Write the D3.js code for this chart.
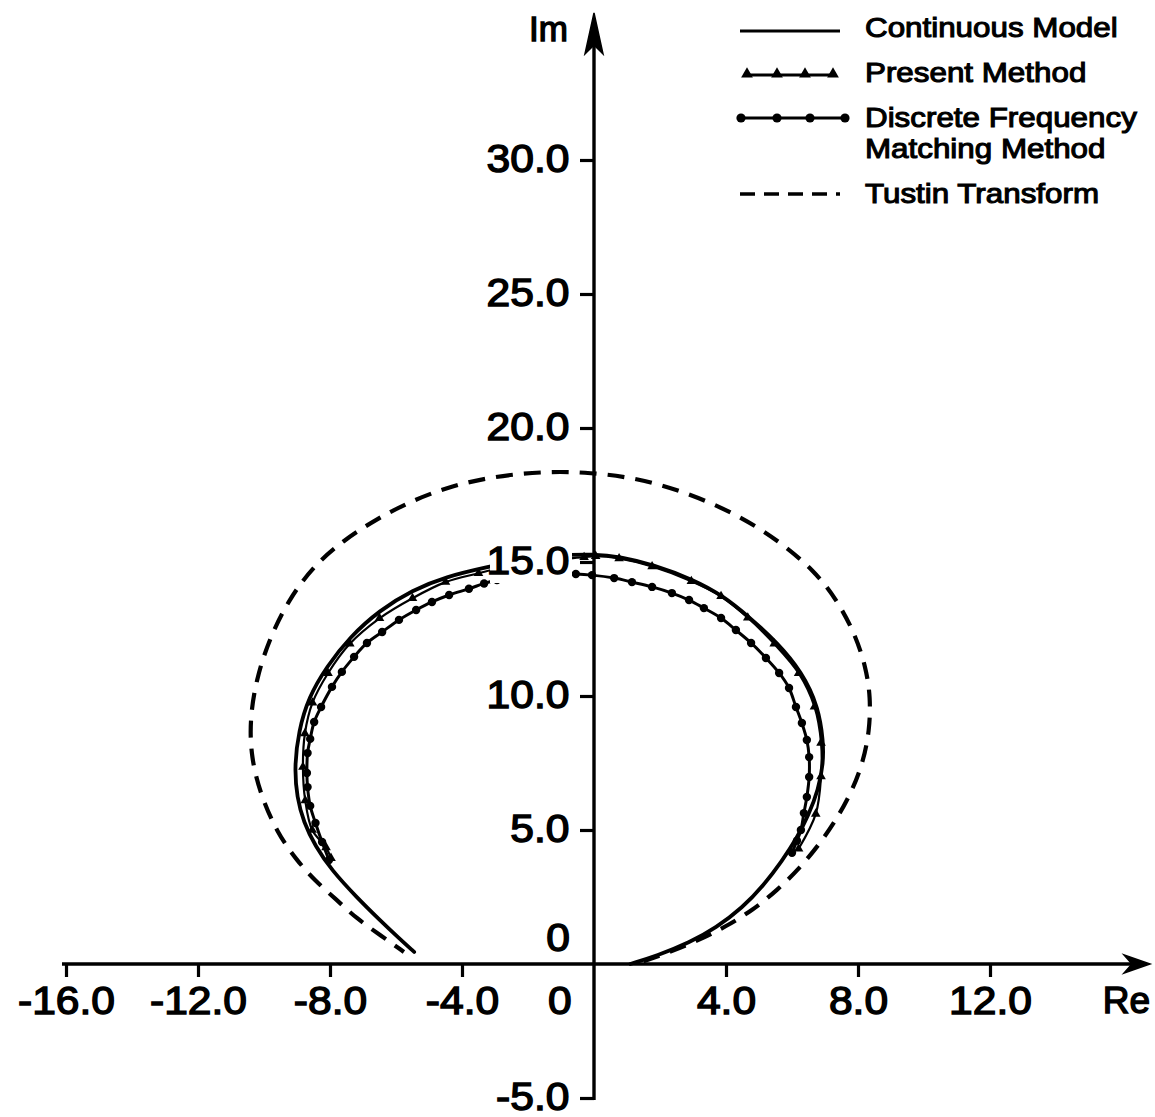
<!DOCTYPE html>
<html>
<head>
<meta charset="utf-8">
<script src="https://cdn.jsdelivr.net/npm/d3@7"></script>
<style>
  html, body { margin: 0; padding: 0; background: #fff; }
  svg { display: block; }
</style>
</head>
<body>
<svg id="chart" width="1155" height="1117"></svg>
<script>
// Nyquist plot (Re, Im) of the continuous model and three discretisations.

// Tick values on each axis
const reTicks = [-16, -12, -8, -4, 0, 4, 8, 12];
const imTicks = [-5, 5, 10, 15, 20, 25, 30];

// Continuous model locus, [Re, Im]
const continuousModel = [
  [1.1, 0.0], [1.9, 0.3], [2.9, 0.8], [3.7, 1.35], [4.5, 2.1], [5.15, 2.95],
  [5.7, 3.85], [6.15, 4.7], [6.5, 5.55], [6.8, 6.5], [6.95, 7.5], [6.95, 8.3],
  [6.8, 9.6], [6.3, 10.9], [5.55, 12.0], [4.7, 12.95], [3.9, 13.75],
  [3.0, 14.35], [1.8, 14.9], [0.8, 15.2], [0.0, 15.3], [-1.2, 15.25],
  [-2.3, 15.05], [-3.2, 14.82], [-4.5, 14.45], [-5.5, 13.95], [-6.5, 13.2],
  [-7.4, 12.2], [-8.1, 11.1], [-8.65, 9.95], [-8.95, 8.7], [-9.08, 7.35],
  [-9.0, 6.2], [-8.8, 5.3], [-8.45, 4.4], [-7.95, 3.5], [-7.2, 2.5],
  [-6.5, 1.65], [-5.9, 0.95], [-5.45, 0.45]
];

// Present method samples, [Re, Im]
const presentMethod = [
  [6.2, 4.3], [6.72, 5.6], [6.88, 7.0], [6.88, 8.25], [6.68, 9.6], [6.2, 10.85],
  [5.46, 11.95], [4.66, 12.92], [3.85, 13.72], [2.95, 14.28], [1.76, 14.83],
  [0.76, 15.13], [0.05, 15.22], [-0.3, 15.18], [-1.5, 15.05], [-2.6, 14.85],
  [-3.5, 14.58], [-4.5, 14.25], [-5.5, 13.65], [-6.5, 12.9], [-7.4, 11.95],
  [-8.06, 10.85], [-8.53, 9.75], [-8.76, 8.6], [-8.82, 7.35], [-8.75, 6.1],
  [-8.54, 5.0], [-8.12, 4.35], [-7.97, 3.95]
];

// Discrete frequency matching method samples, [Re, Im]
const discreteFrequencyMatching = [
  [6.0, 4.15], [6.15, 4.6], [6.27, 5.0], [6.36, 5.63], [6.45, 6.23],
  [6.52, 6.98], [6.52, 7.72], [6.45, 8.36], [6.3, 8.99], [6.12, 9.59],
  [5.91, 10.3], [5.61, 10.86], [5.21, 11.42], [4.76, 11.98], [4.3, 12.46],
  [3.85, 12.91], [3.33, 13.28], [2.88, 13.58], [2.36, 13.84], [1.76, 14.07],
  [1.15, 14.25], [0.61, 14.4], [-0.06, 14.51], [-0.55, 14.55], [-1.2, 14.55],
  [-1.9, 14.5], [-2.5, 14.42], [-2.94, 14.33], [-3.33, 14.2], [-3.79, 14.0],
  [-4.39, 13.77], [-4.91, 13.51], [-5.39, 13.21], [-5.91, 12.84],
  [-6.42, 12.39], [-6.88, 11.98], [-7.27, 11.46], [-7.64, 10.9],
  [-7.94, 10.34], [-8.27, 9.59], [-8.48, 9.03], [-8.6, 8.4], [-8.68, 7.87],
  [-8.7, 7.13], [-8.68, 6.6], [-8.6, 5.9], [-8.44, 5.26], [-8.24, 4.55],
  [-8.03, 3.88]
];

// Tustin transform locus, [Re, Im]
const tustinTransform = [
  [1.5, 0.1], [2.3, 0.45], [3.2, 0.9], [4.0, 1.4], [4.8, 2.0], [5.55, 2.75],
  [6.25, 3.6], [6.85, 4.5], [7.35, 5.4], [7.8, 6.4], [8.15, 7.5],
  [8.35, 8.7], [8.38, 9.95], [8.24, 11.08], [7.9, 12.35], [7.35, 13.6],
  [6.7, 14.65], [5.6, 15.8], [4.3, 16.8], [2.7, 17.65], [1.15, 18.17],
  [-0.3, 18.36], [-1.6, 18.37], [-3.0, 18.2], [-4.3, 17.85], [-5.5, 17.3],
  [-6.6, 16.6], [-7.6, 15.8], [-8.5, 14.85], [-9.25, 13.6], [-9.85, 12.1],
  [-10.24, 10.6], [-10.43, 9.1], [-10.39, 7.7], [-10.1, 6.3], [-9.6, 4.9],
  [-9.03, 3.9], [-8.45, 3.1], [-7.8, 2.4], [-7.2, 1.7], [-6.5, 1.1],
  [-5.76, 0.45]
];

// Legend entries
const legendLabels = [
  ["Continuous Model"],
  ["Present Method"],
  ["Discrete Frequency", "Matching Method"],
  ["Tustin Transform"]
];

const svg = d3.select("#chart");
const FONT = "'Liberation Sans', Arial, Helvetica, sans-serif";
const STRETCH = 1.12;   // horizontally widened lettering

const x = d3.scaleLinear().domain([-16, 12]).range([66, 990]);
const y = d3.scaleLinear().domain([-5, 30]).range([1098, 160]);

const smoothLine = d3.line()
  .x(d => x(d[0]))
  .y(d => y(d[1]))
  .curve(d3.curveBasis);
const markerLine = d3.line()
  .x(d => x(d[0]))
  .y(d => y(d[1]))
  .curve(d3.curveCatmullRom.alpha(0.5));

const plot = svg.append("g");

// Tustin: heavy dashes
plot.append("path")
  .attr("d", smoothLine(tustinTransform))
  .attr("fill", "none").attr("stroke", "#000")
  .attr("stroke-width", 4.2)
  .attr("stroke-dasharray", "17,11");

// Continuous model: heavy solid line
plot.append("path")
  .attr("d", smoothLine(continuousModel))
  .attr("fill", "none").attr("stroke", "#000")
  .attr("stroke-width", 3.8).attr("stroke-linecap", "round");

// Present method: thin line with triangles
plot.append("path")
  .attr("d", markerLine(presentMethod))
  .attr("fill", "none").attr("stroke", "#000")
  .attr("stroke-width", 2.2);
plot.selectAll("path.tri")
  .data(presentMethod)
  .join("path")
  .attr("class", "tri")
  .attr("d", d3.symbol(d3.symbolTriangle, 40))
  .attr("transform", d => `translate(${x(d[0])},${y(d[1])})`)
  .attr("fill", "#000");

// Discrete frequency matching: line with dots
plot.append("path")
  .attr("d", markerLine(discreteFrequencyMatching))
  .attr("fill", "none").attr("stroke", "#000")
  .attr("stroke-width", 3);
plot.selectAll("circle.dfm")
  .data(discreteFrequencyMatching)
  .join("circle")
  .attr("class", "dfm")
  .attr("cx", d => x(d[0]))
  .attr("cy", d => y(d[1]))
  .attr("r", 4.2)
  .attr("fill", "#000");

// White plate behind the "15.0" label
svg.append("rect")
  .attr("x", 490).attr("y", 545)
  .attr("width", 82).attr("height", 38)
  .attr("fill", "#fff");

// ---------- axes ----------
const x0 = x(0), y0 = y(0);
const axes = svg.append("g").attr("stroke", "#000").attr("fill", "none");

// Re axis with arrow
axes.append("line")
  .attr("x1", 62).attr("y1", y0).attr("x2", 1140).attr("y2", y0)
  .attr("stroke-width", 3.4);
axes.append("path")
  .attr("d", `M1150,${y0} L1124,${y0 - 9} L1132,${y0} L1124,${y0 + 9} Z`)
  .attr("fill", "#000").attr("stroke-width", 1.5).attr("stroke-linejoin", "miter");

// Im axis with arrow
axes.append("line")
  .attr("x1", x0).attr("y1", y(-5) + 2).attr("x2", x0).attr("y2", 30)
  .attr("stroke-width", 3.4);
axes.append("path")
  .attr("d", `M${x0},13 L${x0 + 9},54 L${x0},45 L${x0 - 9},54 Z`)
  .attr("fill", "#000").attr("stroke-width", 1.5);

function styleText(sel, size, weight) {
  sel.attr("fill", "#000")
    .attr("stroke", "#000")
    .attr("stroke-width", weight)
    .style("font-family", FONT)
    .style("font-size", size + "px");
}

// Re ticks and labels
const xAxis = svg.append("g")
  .attr("transform", `translate(0,${y0})`)
  .call(d3.axisBottom(x)
    .tickValues(reTicks)
    .tickSize(13)
    .tickPadding(10)
    .tickFormat(d => d === 0 ? "0" : d.toFixed(1)));
xAxis.select(".domain").remove();
xAxis.selectAll(".tick line").attr("stroke", "#000").attr("stroke-width", 3.2);
xAxis.selectAll(".tick").filter(d => d === 0).select("line").remove();
xAxis.selectAll(".tick text")
  .call(styleText, 38, 1.4)
  .attr("transform", `scale(${STRETCH},1)`)
  .attr("x", d => d === 0 ? -31 : 0);

// Im ticks and labels
const yAxis = svg.append("g")
  .attr("transform", `translate(${x0},0)`)
  .call(d3.axisLeft(y)
    .tickValues(imTicks)
    .tickSize(14)
    .tickPadding(8)
    .tickFormat(d => d.toFixed(1)));
yAxis.select(".domain").remove();
yAxis.selectAll(".tick line").attr("stroke", "#000").attr("stroke-width", 3.2);
yAxis.selectAll(".tick text")
  .call(styleText, 38, 1.4)
  .attr("dy", "0.3em")
  .attr("transform", `scale(${STRETCH},1)`);

// "0" on the Im axis
svg.append("text")
  .attr("transform", `translate(${x0 - 24},${y0 - 13}) scale(${STRETCH},1)`)
  .attr("text-anchor", "end")
  .text("0")
  .call(styleText, 38, 1.4);

// Axis names
svg.append("text")
  .attr("x", 568).attr("y", 41)
  .attr("text-anchor", "end")
  .text("Im")
  .call(styleText, 35, 1.4);
svg.append("text")
  .attr("x", 1150).attr("y", y0 + 49)
  .attr("text-anchor", "end")
  .text("Re")
  .call(styleText, 37, 1.4);

// ---------- legend ----------
const legend = svg.append("g");
const rowY = [31, 75, 118, 194];
const textY = [[37], [82], [127, 158], [203]];
const lx1 = 740, lx2 = 840;

// Continuous
legend.append("line")
  .attr("x1", lx1).attr("x2", lx2).attr("y1", rowY[0]).attr("y2", rowY[0])
  .attr("stroke", "#000").attr("stroke-width", 3);
// Present
legend.append("line")
  .attr("x1", lx1 + 4).attr("x2", lx2 - 4).attr("y1", rowY[1]).attr("y2", rowY[1])
  .attr("stroke", "#000").attr("stroke-width", 3);
legend.selectAll("path.ltri")
  .data([747, 777, 805, 833])
  .join("path")
  .attr("class", "ltri")
  .attr("d", d3.symbol(d3.symbolTriangle, 60))
  .attr("transform", d => `translate(${d},${rowY[1] - 1})`)
  .attr("fill", "#000");
// Discrete
legend.append("line")
  .attr("x1", lx1).attr("x2", lx2 + 5).attr("y1", rowY[2]).attr("y2", rowY[2])
  .attr("stroke", "#000").attr("stroke-width", 2.8);
legend.selectAll("circle.ldot")
  .data([741, 777, 810, 845])
  .join("circle")
  .attr("class", "ldot")
  .attr("cx", d => d).attr("cy", rowY[2]).attr("r", 4.6)
  .attr("fill", "#000");
// Tustin
legend.append("line")
  .attr("x1", lx1).attr("x2", lx2).attr("y1", rowY[3]).attr("y2", rowY[3])
  .attr("stroke", "#000").attr("stroke-width", 3.6)
  .attr("stroke-dasharray", "15,9");

legendLabels.forEach((lines, i) => {
  lines.forEach((t, j) => {
    legend.append("text")
      .attr("transform", `translate(865,${textY[i][j]}) scale(${STRETCH},1)`)
      .text(t)
      .call(styleText, 28, 1.1);
  });
});
</script>
</body>
</html>
